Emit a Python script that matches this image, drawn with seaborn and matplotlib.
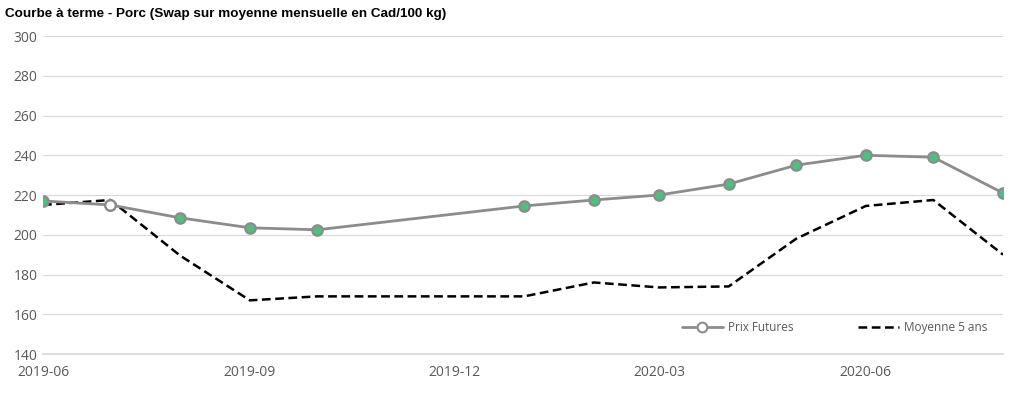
import pandas as pd
import matplotlib.pyplot as plt
import matplotlib.dates as mdates
from matplotlib.lines import Line2D
import seaborn as sns

# data
dates_futures = ["2019-06-01", "2019-07-01", "2019-08-01", "2019-09-01", "2019-10-01",
                 "2020-01-01", "2020-02-01", "2020-03-01", "2020-04-01", "2020-05-01",
                 "2020-06-01", "2020-07-01", "2020-08-01"]
prix_futures = [217, 215, 208.5, 203.5, 202.5, 214.5, 217.5, 220, 225.5, 235, 240, 239, 221]
moyenne_5ans = [215, 217.5, 189.5, 167, 169, 169, 176, 173.5, 174, 198, 214.5, 217.5, 190]
hollow_date = "2019-07-01"

x_ticks = ["2019-06-01", "2019-09-01", "2019-12-01", "2020-03-01", "2020-06-01"]
y_ticks = [140, 160, 180, 200, 220, 240, 260, 280, 300]

df = pd.DataFrame({"date": pd.to_datetime(dates_futures),
                   "futures": prix_futures,
                   "moyenne": moyenne_5ans})

sns.set_theme(style="white")
plt.rcParams["font.family"] = ["Open Sans", "DejaVu Sans"]

GRAY = "#8c8c8c"
GREEN = "#4cc17e"
DASH = (0, (3.5, 1.8))

fig = plt.figure(figsize=(10.24, 3.94), dpi=100)
ax = fig.add_axes([0.042, 0.1015, 0.9375, 0.8071])

sns.lineplot(data=df, x="date", y="moyenne", ax=ax, color="black",
             linewidth=1.8, linestyle=DASH, zorder=2)
sns.lineplot(data=df, x="date", y="futures", ax=ax, color=GRAY, linewidth=2,
             marker="o", markersize=7.5, markerfacecolor=GREEN,
             markeredgecolor=GRAY, markeredgewidth=1.6, zorder=3)
hd = df[df["date"] == pd.Timestamp(hollow_date)]
ax.plot(hd["date"], hd["futures"], "o", markersize=7.5, markerfacecolor="white",
        markeredgecolor=GRAY, markeredgewidth=1.6, zorder=4)

ax.set_xlim(df["date"].min(), df["date"].max())
ax.set_ylim(140, 300)
ax.set_yticks(y_ticks)
ax.set_xticks(pd.to_datetime(x_ticks))
ax.xaxis.set_major_formatter(mdates.DateFormatter("%Y-%m"))
ax.grid(axis="y", color="#d9d9d9", linewidth=0.8)
ax.set_axisbelow(True)
for s in ["top", "right", "left"]:
    ax.spines[s].set_visible(False)
ax.spines["bottom"].set_color("#d9d9d9")
ax.tick_params(axis="both", labelsize=10, colors="#595959", length=0, pad=4)
ax.tick_params(axis="x", length=4, color="#d9d9d9", direction="out")
ax.set_xlabel("")
ax.set_ylabel("")

handles = [
    Line2D([], [], color=GRAY, linewidth=2, marker="o", markersize=7,
           markerfacecolor="white", markeredgecolor=GRAY, markeredgewidth=1.5),
    Line2D([], [], color="black", linewidth=1.8, linestyle=DASH),
]
leg = ax.legend(handles, ["Prix Futures", "Moyenne 5 ans"], ncol=2, frameon=False,
                loc="lower right", bbox_to_anchor=(0.995, 0.03), fontsize=8.5,
                handlelength=3.5, columnspacing=5.5, handletextpad=0.4)
for t in leg.get_texts():
    t.set_color("#595959")

fig.text(0.005, 0.965, "Courbe à terme - Porc (Swap sur moyenne mensuelle en Cad/100 kg)",
         fontsize=9.7, fontweight="bold", family=["Liberation Sans", "DejaVu Sans"],
         va="center", ha="left", color="black")

fig.savefig("out.png", dpi=100)
